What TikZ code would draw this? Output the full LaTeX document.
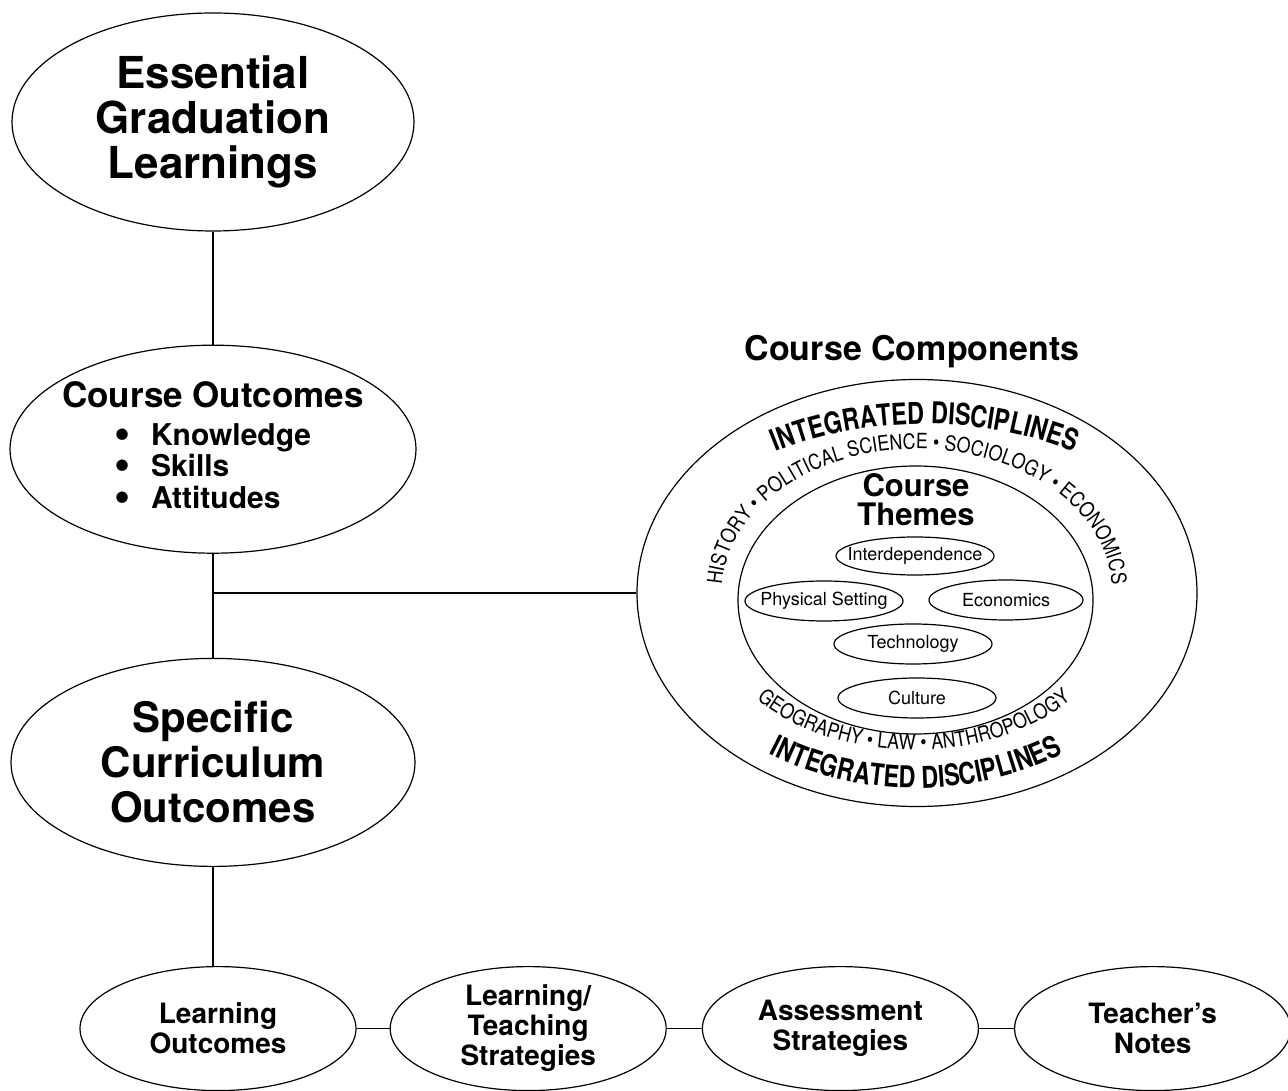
\documentclass[tikz,border=0pt]{standalone}
\usepackage{fontspec}
\setmainfont{TeX Gyre Heros}
\newfontfamily\arcfont[FakeStretch=0.85]{TeX Gyre Heros}
\newfontfamily\arcboldfont[FakeStretch=0.78]{TeX Gyre Heros}
\usetikzlibrary{positioning}
\usetikzlibrary{shapes.geometric}
\usetikzlibrary{decorations.text}

\newcommand{\bigdot}{\raisebox{-3pt}{\fontsize{46}{30}\selectfont\textbullet}}

\begin{document}
\begin{tikzpicture}
	[x=1pt, y=1pt, line width=1.2pt,
	 oval/.style={ellipse, draw=black, align=center, inner sep=0pt},
	 bigoval/.style={oval, minimum width=402pt, minimum height=218pt, font=\bfseries\fontsize{44}{45}\selectfont},
	 midoval/.style={oval, minimum width=406pt, minimum height=208pt, inner xsep=-16pt},
	 lowoval/.style={oval, minimum width=276pt, minimum height=124pt, font=\bfseries\fontsize{28}{30}\selectfont},
	 theme/.style={oval, minimum width=158pt, minimum height=40pt, inner xsep=-14pt, font=\fontsize{18}{18}\selectfont},
	 heading/.style={align=center, inner sep=0pt, font=\bfseries\fontsize{34}{34}\selectfont}]
	\path[fill=white] (0,0) rectangle (1288,1090);
	\useasboundingbox (0,0) rectangle (1288,1090);

	\node[bigoval, yshift=-4pt] (egl) at (213,972) {Essential\\Graduation\\Learnings};
	\node[midoval, below=113pt of egl, font=\bfseries\fontsize{30}{30}\selectfont] (co)
		{{\fontsize{35}{30}\selectfont Course Outcomes}\\[8pt]
		 \begin{tabular}[t]{@{}l@{\hspace{20pt}}l@{}}
		 \bigdot & Knowledge\\
		 \bigdot & Skills\\
		 \bigdot & Attitudes
		 \end{tabular}};
	\node[bigoval, below=104pt of co, minimum width=404pt, minimum height=208pt, font=\bfseries\fontsize{42}{45}\selectfont] (sco)
		{Specific\\Curriculum\\Outcomes};
	\node[lowoval, below=99pt of sco, xshift=5pt] (lo) {Learning\\Outcomes};
	\node[lowoval, right=33pt of lo] (lts) {Learning/\\Teaching\\Strategies};
	\node[lowoval, right=35pt of lts] (as) {Assessment\\Strategies};
	\node[lowoval, right=35pt of as] (tn) {Teacher’s\\Notes};

	\node[heading] (cctitle) at (912,738) {Course Components};
	\node[oval, minimum width=560pt, minimum height=427pt] (comp) at (917,497) {};
	\node[oval, minimum width=355pt, minimum height=268pt] (themes) at (915.5,490) {};
	\node[heading, font=\bfseries\fontsize{31}{29}\selectfont] (ctitle) at (916,590) {Course\\Themes};
	\node[theme, minimum height=38pt] (inter) at (915,534) {Interdependence};
	\node[theme] (phys) at (824,489) {Physical Setting};
	\node[theme, minimum width=154pt] (econ) at (1006,490) {Economics};
	\node[theme] (tech) at (913,446) {Technology};
	\node[theme] (cult) at (917,392) {Culture};

	\path[decorate, decoration={text along path, text align=center,
		text={|\arcboldfont\bfseries\fontsize{30}{30}\selectfont|INTEGRATED DISCIPLINES}}]
		([shift={(140:270pt and 167pt)}]925,499) arc[start angle=140, end angle=40, x radius=270pt, y radius=167pt];
	\path[decorate, decoration={text along path, text align=center,
		text={|\arcfont\fontsize{21}{21}\selectfont|HISTORY • POLITICAL SCIENCE • SOCIOLOGY • ECONOMICS}}]
		([shift={(190:195pt and 142pt)}]917,499) arc[start angle=190, end angle=-10, x radius=195pt, y radius=142pt];
	\path[decorate, decoration={text along path, text align=center,
		text={|\arcfont\fontsize{21}{21}\selectfont|GEOGRAPHY • LAW • ANTHROPOLOGY}}]
		([shift={(211:210pt and 150pt)}]914,490) arc[start angle=211, end angle=329, x radius=210pt, y radius=150pt];
	\path[decorate, decoration={text along path, text align=center,
		text={|\arcboldfont\bfseries\fontsize{30}{30}\selectfont|INTEGRATED DISCIPLINES}}]
		([shift={(220:260pt and 197pt)}]916,499) arc[start angle=220, end angle=320, x radius=260pt, y radius=197pt];

	\draw (egl) -- (co);
	\draw (co) -- (sco);
	\draw (sco.south) -- (sco.south |- lo.north);
	\draw (co.south |- comp.west) -- (comp.west);
	\draw (lo) -- (lts);
	\draw (lts) -- (as);
	\draw (as) -- (tn);
\end{tikzpicture}
\end{document}
